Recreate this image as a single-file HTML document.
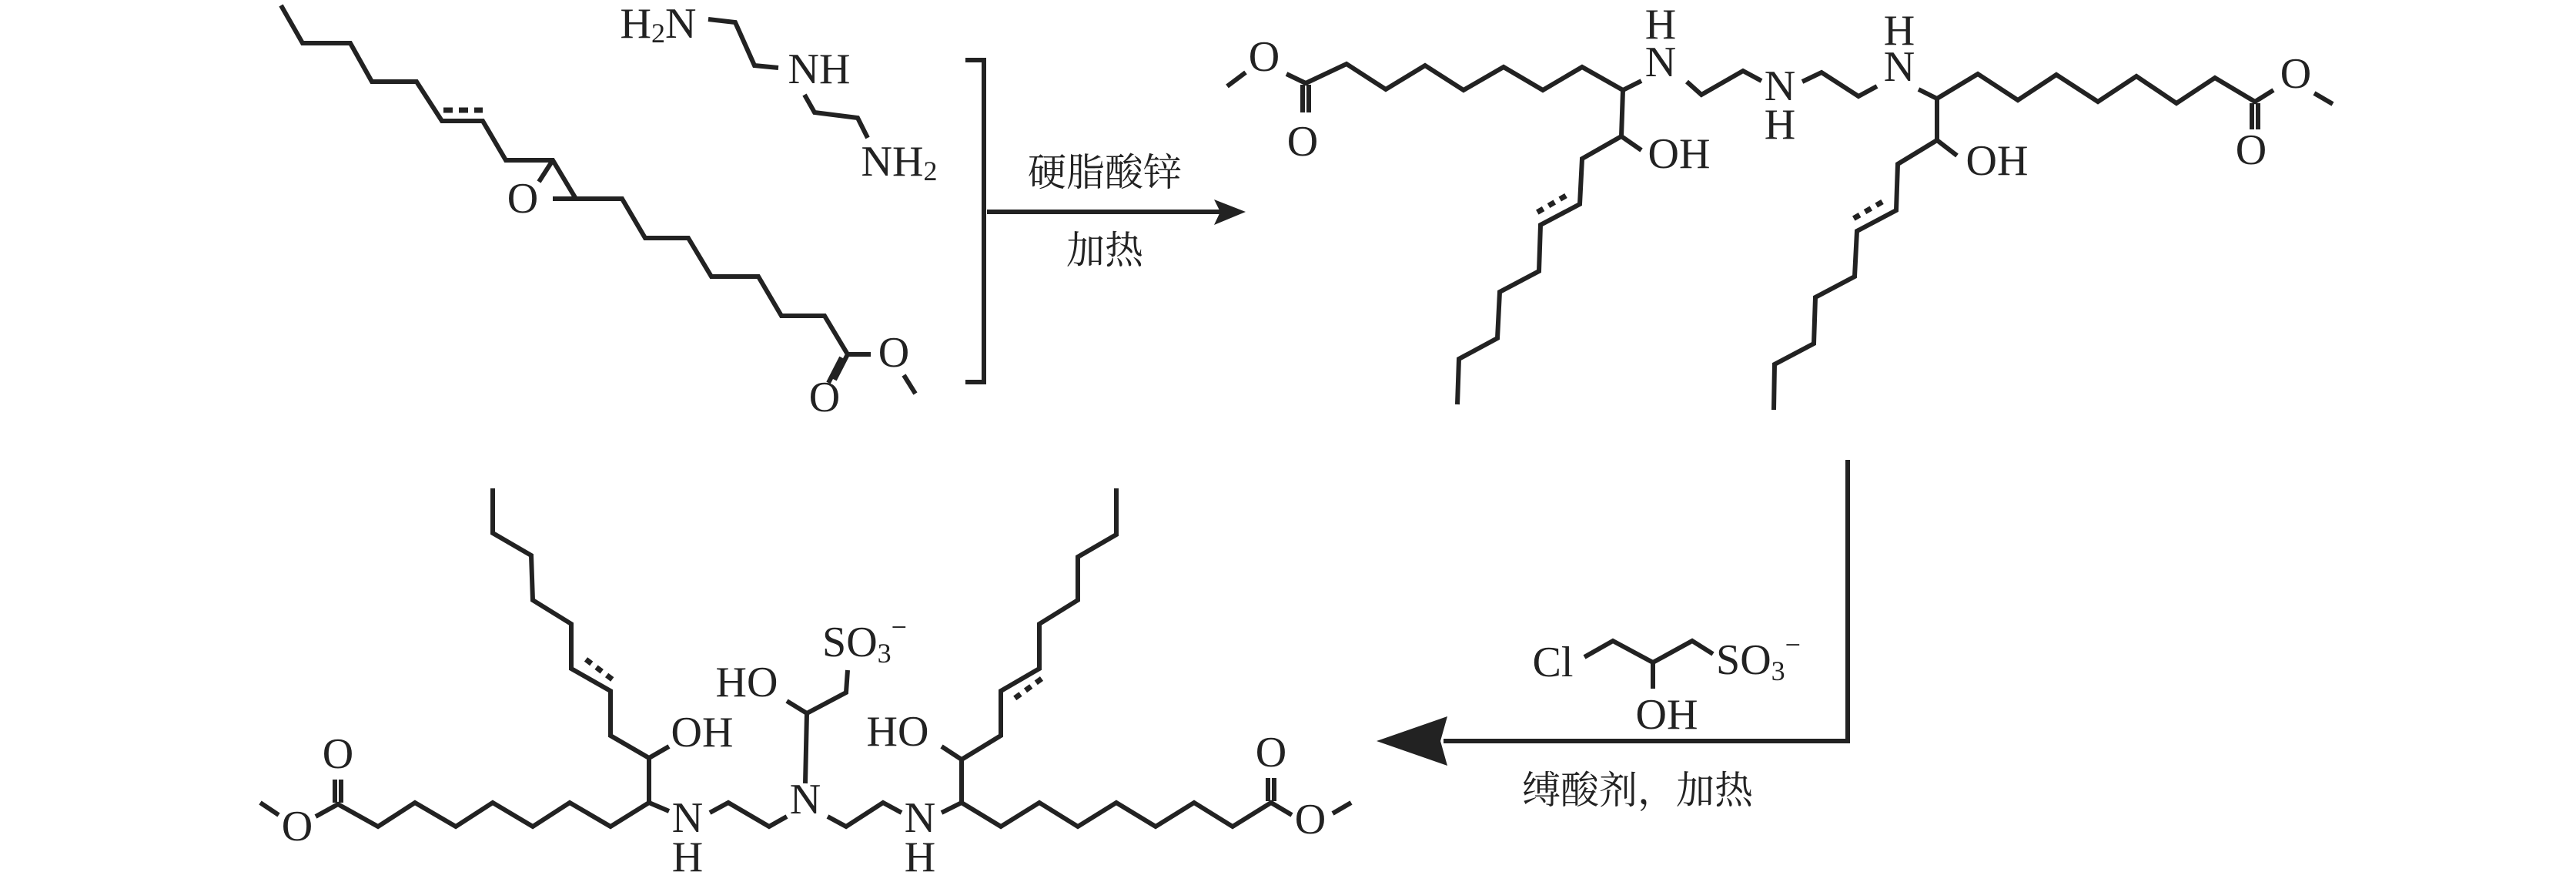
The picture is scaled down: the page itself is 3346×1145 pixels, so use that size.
<!DOCTYPE html>
<html><head><meta charset="utf-8"><style>
html,body{margin:0;padding:0;background:#fff;}
svg{display:block;}
text{font-family:"Liberation Serif","Noto Serif CJK SC",serif;fill:#222;}
.c{font-family:"Liberation Serif","Noto Serif CJK SC","Noto Sans CJK SC",serif;}
</style></head><body>
<svg width="3346" height="1145" viewBox="0 0 3346 1145" xmlns="http://www.w3.org/2000/svg">
<g fill="none" stroke="#222" stroke-width="6" stroke-linejoin="miter" stroke-linecap="butt">
<!-- Reactant 1 -->
<polyline points="365,7 393,56 455,56 483,106 541,106 574,157 627,157 657,208 718,208 748,258 808,258 838,309 894,309 924,359 985,359 1015,410 1071,410 1101,460 1131,460"/>
<line x1="576" y1="143" x2="627" y2="143" stroke-dasharray="12,8" stroke-width="7"/>
<line x1="718" y1="208" x2="700" y2="236"/>
<line x1="718" y1="258" x2="748" y2="258"/>
<line x1="1101" y1="460" x2="1084" y2="493"/>
<line x1="1093" y1="464" x2="1076" y2="497"/>
<line x1="1174" y1="487" x2="1189" y2="511"/>
<!-- amine -->
<polyline points="920,25 955,29 980,85 1011,88"/>
<polyline points="1045,123 1058,146 1114,153 1127,179"/>
<!-- bracket & arrow -->
<polyline points="1254,78 1278,78 1278,496 1254,496"/>
<line x1="1282" y1="275" x2="1585" y2="275"/>
<!-- Product 1 -->
<polyline points="1594,112 1618,94"/>
<polyline points="1671,96 1696,108 1749,83 1800,116 1851,85 1901,117 1953,87 2004,117 2055,87 2108,117 2132,105"/>
<line x1="1692" y1="110" x2="1692" y2="146"/><line x1="1700" y1="110" x2="1700" y2="146"/>
<polyline points="2191,106 2210,123 2264,92 2288,105"/>
<polyline points="2341,106 2366,94 2414,125 2438,112"/>
<polyline points="2492,116 2516,128 2569,96 2621,130 2671,97 2725,132 2775,99 2827,134 2877,101 2929,132 2953,117"/>
<line x1="2925" y1="134" x2="2925" y2="168"/><line x1="2933" y1="134" x2="2933" y2="168"/>
<line x1="3006" y1="121" x2="3030" y2="135"/>
<polyline points="2108,117 2106,177 2132,195"/>
<polyline points="2106,177 2055,206 2052,265 2001,292 1999,352 1948,379 1945,439 1895,466 1893,525"/>
<line x1="2034" y1="254" x2="1996" y2="276" stroke-dasharray="9,8" stroke-width="7"/>
<polyline points="2516,128 2516,182 2542,202"/>
<polyline points="2516,182 2465,213 2463,273 2412,300 2409,359 2358,386 2356,446 2305,473 2304,532"/>
<line x1="2445" y1="262" x2="2407" y2="284" stroke-dasharray="9,8" stroke-width="7"/>
<!-- second arrow -->
<polyline points="2400,597 2400,962 1875,962"/>
<!-- Reagent -->
<polyline points="2058,853 2095,832 2147,860 2198,832 2225,849"/>
<line x1="2147" y1="860" x2="2147" y2="894"/>
<!-- Product 2 -->
<line x1="338" y1="1042" x2="362" y2="1058"/>
<polyline points="410,1060 439,1044 491,1073 539,1042 592,1073 640,1042 692,1073 740,1042 793,1073 843,1042 869,1053"/>
<line x1="435" y1="1042" x2="435" y2="1012"/><line x1="443" y1="1042" x2="443" y2="1012"/>
<polyline points="922,1055 946,1042 999,1073 1022,1060"/>
<polyline points="1075,1060 1099,1073 1147,1042 1171,1055"/>
<polyline points="1223,1055 1249,1042 1300,1073 1350,1042 1400,1073 1450,1042 1501,1073 1551,1042 1601,1073 1651,1042 1678,1058"/>
<line x1="1647" y1="1040" x2="1647" y2="1010"/><line x1="1655" y1="1040" x2="1655" y2="1010"/>
<line x1="1731" y1="1056" x2="1755" y2="1042"/>
<polyline points="1046,1017 1048,926 1022,910"/>
<polyline points="1048,926 1099,899 1101,870"/>
<polyline points="843,1042 843,984 869,969"/>
<polyline points="843,984 793,955 793,897 742,868 742,810 692,779 690,721 640,692 640,634"/>
<line x1="761" y1="856" x2="798" y2="884" stroke-dasharray="9,8" stroke-width="7"/>
<polyline points="1249,1042 1249,986 1223,969"/>
<polyline points="1249,986 1300,955 1300,897 1350,868 1350,810 1400,779 1400,723 1450,694 1450,634"/>
<line x1="1353" y1="881" x2="1316" y2="908" stroke-dasharray="9,8" stroke-width="7"/>
</g>
<!-- arrowheads -->
<polygon points="1618,275 1577,259 1585,275 1577,292" fill="#222"/>
<polygon points="1788,962 1880,930 1871,962 1880,994" fill="#222"/>
<g font-size="56" text-anchor="middle" dominant-baseline="central">
<text x="679" y="258">O</text>
<text x="1161" y="458">O</text>
<text x="1071" y="516">O</text>
<text x="855" y="31">H<tspan font-size="36" dy="12">2</tspan><tspan dy="-12">N</tspan></text>
<text x="1064" y="90">NH</text>
<text x="1168" y="210">NH<tspan font-size="36" dy="12">2</tspan></text>
<text x="1642" y="74">O</text>
<text x="1692" y="184">O</text>
<text x="2157" y="81">N</text><text x="2157" y="32">H</text>
<text x="2312" y="112">N</text><text x="2312" y="162">H</text>
<text x="2467" y="87">N</text><text x="2467" y="40">H</text>
<text x="2982" y="96">O</text>
<text x="2924" y="195">O</text>
<text x="2181" y="200">OH</text>
<text x="2594" y="209">OH</text>
<text x="2017" y="860">Cl</text>
<text x="2165" y="928">OH</text>
<text x="2284" y="857">SO<tspan font-size="36" dy="14">3</tspan><tspan font-size="36" dy="-34">−</tspan></text>
<text x="386" y="1073">O</text>
<text x="439" y="979">O</text>
<text x="893" y="1062">N</text><text x="893" y="1113">H</text>
<text x="1046" y="1038">N</text>
<text x="1195" y="1062">N</text><text x="1195" y="1113">H</text>
<text x="1702" y="1064">O</text>
<text x="1651" y="977">O</text>
<text x="970" y="886">HO</text>
<text x="912" y="951">OH</text>
<text x="1166" y="950">HO</text>
<text x="1123" y="834">SO<tspan font-size="36" dy="14">3</tspan><tspan font-size="36" dy="-34">−</tspan></text>
</g>
<g font-size="50" text-anchor="middle" dominant-baseline="central" class="c">
<text class="c" x="1435" y="224">硬脂酸锌</text>
<text class="c" x="1435" y="325">加热</text>
<text class="c" x="2127" y="1026">缚酸剂，加热</text>
</g>
</svg>
</body></html>
